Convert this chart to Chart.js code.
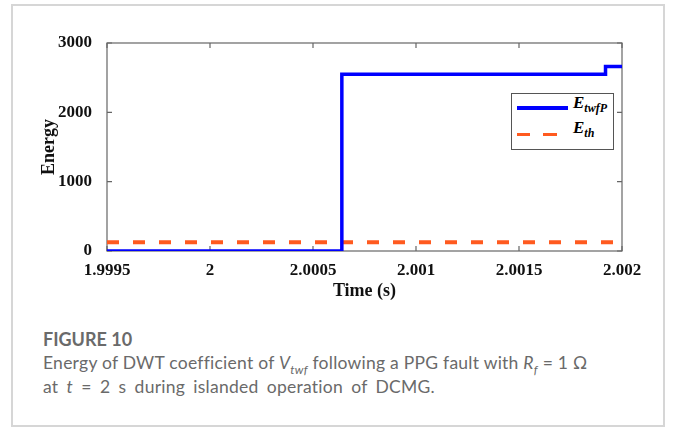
<!DOCTYPE html>
<html>
<head>
<meta charset="utf-8">
<script src="https://cdn.jsdelivr.net/npm/chart.js@4"></script>
<style>
body { margin: 0; background: #fff; }
#frame { position: absolute; left: 11px; top: 4px; width: 650px; height: 419px; border: 2px solid #d6d6d6; }
#chart { position: absolute; left: 0; top: 0; }
.leg { position: absolute; font-family: "Liberation Serif", serif; font-weight: bold; font-style: italic; color: #000; }
.leg sub { font-size: 12px; }
#legbox { position: absolute; left: 511px; top: 93px; width: 101px; height: 55px; border: 1px solid #555; background: #fff; }
.cap { position: absolute; left: 43px; font-family: Lato, "Open Sans", sans-serif; color: #6a6a6a; white-space: nowrap; }
.cap sub { font-size: 12px; }
</style>
</head>
<body>
<div id="frame"></div>
<canvas id="chart" width="675" height="310"></canvas>
<div id="legbox"></div>
<div style="position:absolute;left:517px;top:106px;width:51px;height:4px;background:#0000ff"></div>
<div style="position:absolute;left:517px;top:133px;width:13px;height:3px;background:#ff5a1f"></div>
<div style="position:absolute;left:543px;top:133px;width:14px;height:3px;background:#ff5a1f"></div>
<div class="leg" style="left:573px;top:93px;font-size:17px">E<sub>twfP</sub></div>
<div class="leg" style="left:573px;top:118px;font-size:17px">E<sub>th</sub></div>
<div class="cap" style="top:328px;font-size:18px;font-weight:bold">FIGURE 10</div>
<div class="cap" style="top:352px;font-size:17.5px;letter-spacing:0.25px">Energy of DWT coefficient of <i>V<sub>twf</sub></i> following a PPG fault with <i>R<sub>f</sub></i> = 1 Ω</div>
<div class="cap" style="top:376px;font-size:17.5px;letter-spacing:0.25px;word-spacing:3.5px">at <i>t</i> = 2 s during islanded operation of DCMG.</div>
<script>
var timeValues = [1.9995, 2.00064, 2.00192, 2.002];
var energyValues = [0, 2550, 2660, 2660];
var thTime = [1.9995, 2.002];
var thEnergy = [125, 125];
var xTicks = [1.9995, 2, 2.0005, 2.001, 2.0015, 2.002];
var xTickLabels = ['1.9995', '2', '2.0005', '2.001', '2.0015', '2.002'];
var yTicks = [0, 1000, 2000, 3000];
var yTickLabels = ['0', '1000', '2000', '3000'];

var twfData = [];
for (i = 0; i < timeValues.length; i++) {
  twfData.push({x: timeValues[i], y: energyValues[i]});
}
var thData = [];
for (i = 0; i < thTime.length; i++) {
  thData.push({x: thTime[i], y: thEnergy[i]});
}

var tickFont = {family: 'Liberation Serif', weight: 'bold', size: 17};
var titleFont = {family: 'Liberation Serif', weight: 'bold', size: 18};

// box round the plot with inward ticks, like matlab
var boxPlugin = {
  id: 'box',
  beforeDatasetsDraw: function(chart) {
    var ctx = chart.ctx, a = chart.chartArea;
    var xs = chart.scales.x, ys = chart.scales.y;
    ctx.save();
    ctx.strokeStyle = '#666';
    ctx.lineWidth = 1.2;
    ctx.strokeRect(a.left, a.top, a.right - a.left, a.bottom - a.top);
    ctx.beginPath();
    xTicks.forEach(function(v) {
      var px = xs.getPixelForValue(v);
      ctx.moveTo(px, a.bottom); ctx.lineTo(px, a.bottom - 5);
      ctx.moveTo(px, a.top); ctx.lineTo(px, a.top + 5);
    });
    yTicks.forEach(function(v) {
      var py = ys.getPixelForValue(v);
      ctx.moveTo(a.left, py); ctx.lineTo(a.left + 5, py);
      ctx.moveTo(a.right, py); ctx.lineTo(a.right - 5, py);
    });
    ctx.stroke();
    ctx.restore();
  }
};

window.onload = function() {
  var ctx = document.getElementById('chart').getContext('2d');
  window.theChart = new Chart(ctx, {
    type: 'line',
    data: {
      datasets: [{
        label: 'E_twfP',
        data: twfData,
        stepped: 'before',
        borderColor: '#0000ff',
        borderWidth: 3.5,
        pointRadius: 0,
        fill: false
      }, {
        label: 'E_th',
        data: thData,
        borderColor: '#ff5a1f',
        borderWidth: 4,
        borderDash: [12, 14],
        pointRadius: 0,
        fill: false
      }]
    },
    options: {
      responsive: false,
      animation: false,
      layout: {padding: {left: 0, top: 43, right: 53, bottom: 0}},
      plugins: {legend: {display: false}, tooltip: {enabled: false}},
      scales: {
        x: {
          type: 'linear',
          min: 1.9995,
          max: 2.002,
          afterBuildTicks: function(s) {
            s.ticks = xTicks.map(function(v) { return {value: v}; });
          },
          afterFit: function(s) { s.height = 59; },
          ticks: {
            font: tickFont, color: '#111', padding: 1, maxRotation: 0, autoSkip: false,
            callback: function(v, i) { return xTickLabels[i]; }
          },
          grid: {display: false},
          border: {display: false},
          title: {display: true, text: 'Time (s)', font: titleFont, color: '#111', padding: {top: 0, bottom: 8}}
        },
        y: {
          min: 0,
          max: 3000,
          afterBuildTicks: function(s) {
            s.ticks = yTicks.map(function(v) { return {value: v}; });
          },
          afterFit: function(s) { s.width = 107; },
          ticks: {
            font: tickFont, color: '#111', padding: 7,
            callback: function(v, i) { return yTickLabels[i]; }
          },
          grid: {display: false},
          border: {display: false},
          title: {display: true, text: 'Energy', font: titleFont, color: '#111', padding: {top: 39, bottom: 0}}
        }
      }
    },
    plugins: [boxPlugin]
  });
};
</script>
</body>
</html>
